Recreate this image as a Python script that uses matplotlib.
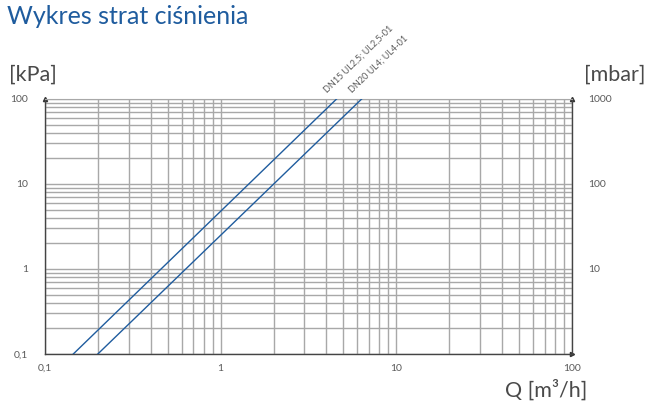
import matplotlib.pyplot as plt
from matplotlib.ticker import FixedLocator, NullFormatter, NullLocator

plt.rcParams['font.family'] = ['Lato', 'DejaVu Sans']

# flow [m3/h] and pressure loss [kPa] (end points of each line)
dn15_q = [0.145, 4.57]
dn15_dp = [0.1, 100]
dn20_q = [0.2, 6.35]
dn20_dp = [0.1, 100]
dn15_label = 'DN15 UL2,5; UL2,5-01'
dn20_label = 'DN20 UL4; UL4-01'

x_ticks = [0.1, 1, 10, 100]
x_labels = ['0,1', '1', '10', '100']
y_ticks = [0.1, 1, 10, 100]
y_labels = ['0,1', '1', '10', '100']
mbar_ticks = [10, 100, 1000]
mbar_labels = ['10', '100', '1000']

blue = '#1f5c9e'
grid_c = '#a8a8a8'
txt_c = '#5a5a5a'

fig = plt.figure(figsize=(6.48, 4.05), dpi=100)
ax = fig.add_axes([0.0694, 0.126, 0.8133, 0.6296])
ax.set_xscale('log')
ax.set_yscale('log')
ax.set_xlim(0.1, 100)
ax.set_ylim(0.1, 100)

ax.grid(True, which='both', color=grid_c, lw=1.0)
ax.set_axisbelow(True)

ax.plot(dn15_q, dn15_dp, color=blue, lw=1.0, zorder=3)
ax.plot(dn20_q, dn20_dp, color=blue, lw=1.0, zorder=3)

# labels running along the lines, starting at the top end
ax.annotate(dn15_label, (dn15_q[1], dn15_dp[1]), xytext=(-6, 3), textcoords='offset points',
            rotation=44, ha='left', va='bottom', fontsize=6.5, color=txt_c, rotation_mode='anchor')
ax.annotate(dn20_label, (dn20_q[1], dn20_dp[1]), xytext=(-6, 3), textcoords='offset points',
            rotation=44, ha='left', va='bottom', fontsize=6.5, color=txt_c, rotation_mode='anchor')

ax.xaxis.set_major_locator(FixedLocator(x_ticks))
ax.set_xticklabels(x_labels)
ax.xaxis.set_minor_formatter(NullFormatter())
ax.yaxis.set_major_locator(FixedLocator(y_ticks))
ax.set_yticklabels(y_labels)
ax.yaxis.set_minor_formatter(NullFormatter())
ax.tick_params(which='both', length=0)
ax.tick_params(axis='x', pad=7, labelsize=7.5, labelcolor=txt_c)
ax.tick_params(axis='y', pad=12, labelsize=7.5, labelcolor=txt_c)

for s in ['left', 'bottom', 'right']:
    ax.spines[s].set_color('#444444')
    ax.spines[s].set_linewidth(1.0)
ax.spines['top'].set_color(grid_c)

# small arrow heads at axis ends
ax.plot(0, 1, marker='^', color='#333333', ms=3, transform=ax.transAxes, clip_on=False)
ax.plot(1, 1, marker='^', color='#333333', ms=3, transform=ax.transAxes, clip_on=False)
ax.plot(1, 0, marker='>', color='#333333', ms=3, transform=ax.transAxes, clip_on=False)

# right axis in mbar (1 kPa = 10 mbar)
ax2 = ax.twinx()
ax2.set_yscale('log')
ax2.set_ylim(1, 1000)
ax2.yaxis.set_major_locator(FixedLocator(mbar_ticks))
ax2.set_yticklabels(mbar_labels)
ax2.yaxis.set_minor_locator(NullLocator())
ax2.tick_params(which='both', length=0, pad=12, labelsize=7.5, labelcolor=txt_c)
for s in ax2.spines.values():
    s.set_visible(False)

fig.text(0.011, 0.96, 'Wykres strat ciśnienia', fontsize=18, color=blue,
         va='center', ha='left')
fig.text(0.014, 0.815, '[kPa]', fontsize=15.5, color='#4a4a4a', va='center')
fig.text(0.996, 0.815, '[mbar]', fontsize=15.5, color='#4a4a4a', va='center', ha='right')
fig.text(0.907, 0.037, 'Q [m³/h]', fontsize=15.5, color='#4a4a4a', va='center', ha='right')

fig.savefig('out.png', dpi=100)
